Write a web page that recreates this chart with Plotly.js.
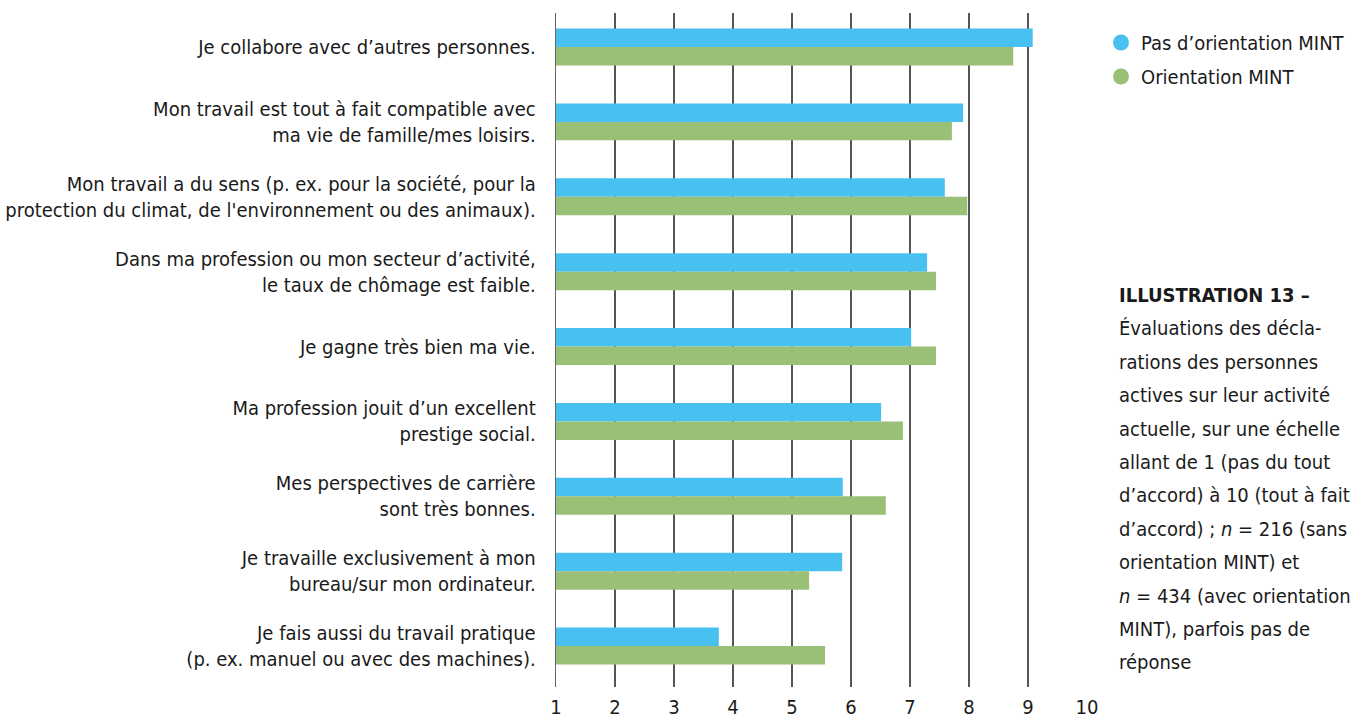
<!DOCTYPE html>
<html>
<head>
<meta charset="utf-8">
<script src="https://cdn.plot.ly/plotly-3.0.1.min.js"></script>
<style>
html,body{margin:0;padding:0;background:#fff;}
#chart{width:1368px;height:720px;}
</style>
</head>
<body>
<div id="chart"></div>
<script>
const categories = [
  "Je collabore avec d’autres personnes.",
  "Mon travail est tout à fait compatible avec<br>ma vie de famille/mes loisirs.",
  "Mon travail a du sens (p. ex. pour la société, pour la<br>protection du climat, de l'environnement ou des animaux).",
  "Dans ma profession ou mon secteur d’activité,<br>le taux de chômage est faible.",
  "Je gagne très bien ma vie.",
  "Ma profession jouit d’un excellent<br>prestige social.",
  "Mes perspectives de carrière<br>sont très bonnes.",
  "Je travaille exclusivement à mon<br>bureau/sur mon ordinateur.",
  "Je fais aussi du travail pratique<br>(p. ex. manuel ou avec des machines)."
];
const seriesNames = ["Pas d’orientation MINT", "Orientation MINT"];
const pasMint = [9.08, 7.90, 7.59, 7.29, 7.02, 6.51, 5.86, 5.85, 3.76];
const mint    = [8.75, 7.71, 7.97, 7.44, 7.44, 6.88, 6.59, 5.29, 5.56];
const tickVals = [1, 2, 3, 4, 5, 6, 7, 8, 9, 10];
const noteLines = [
  "<b>ILLUSTRATION 13 –</b>",
  "Évaluations des décla-",
  "rations des personnes",
  "actives sur leur activité",
  "actuelle, sur une échelle",
  "allant de 1 (pas du tout",
  "d’accord) à 10 (tout à fait",
  "d’accord) ; <i>n</i> = 216 (sans",
  "orientation MINT) et",
  "<i>n</i> = 434 (avec orientation",
  "MINT), parfois pas de",
  "réponse"
];

const BLUE = "#48C1F1";
const GREEN = "#99C076";
const FONT = "'Liberation Sans Narrow', 'DejaVu Sans Condensed', Roboto, sans-serif";
const TXT = "#1a1a1a";

const W = 1368, H = 720;
const L = 556, R = 1087, T = 13, B = 687;

const traces = [
  {type: "bar", orientation: "h", name: seriesNames[0], x: pasMint, y: categories,
   marker: {color: BLUE}, showlegend: false, hoverinfo: "x"},
  {type: "bar", orientation: "h", name: seriesNames[1], x: mint, y: categories,
   marker: {color: GREEN}, showlegend: false, hoverinfo: "x"},
  {type: "scatter", mode: "markers", name: seriesNames[0], x: [null], y: [null],
   legendgroup: "a",
   marker: {color: BLUE, size: 18, symbol: "circle"}, showlegend: true, hoverinfo: "skip"},
  {type: "scatter", mode: "markers", name: seriesNames[1], x: [null], y: [null],
   legendgroup: "b",
   marker: {color: GREEN, size: 18, symbol: "circle"}, showlegend: true, hoverinfo: "skip"}
];

const plotH = B - T;
const annotations = noteLines.map((t, k) => {
  const baseline = 303 + 33.4 * k;
  const center = baseline - 8;
  return {
    text: t, xref: "paper", yref: "paper",
    x: (1117 - L) / (R - L), y: (B - center) / plotH,
    xanchor: "left", yanchor: "middle", showarrow: false, align: "left",
    font: {family: FONT, size: 20, color: TXT}
  };
});

const layout = {
  width: W, height: H,
  margin: {l: L, r: W - R, t: T, b: H - B, pad: 0},
  paper_bgcolor: "#fff", plot_bgcolor: "#fff",
  barmode: "group", bargap: 0.506, bargroupgap: 0,
  font: {family: FONT, color: TXT, size: 20},
  xaxis: {
    range: [1, 10], tickvals: tickVals, ticktext: tickVals.map(String),
    showgrid: true, gridcolor: "#555", gridwidth: 1.3,
    zeroline: false, showline: false, ticks: "",
    tickfont: {family: FONT, size: 20, color: TXT},
    ticklabelstandoff: 6, fixedrange: true
  },
  yaxis: {
    type: "category", categoryorder: "array", categoryarray: categories,
    range: [8.547, -0.454], showgrid: false, zeroline: false,
    showline: true, linecolor: "#666", linewidth: 1.3, layer: "above traces",
    ticks: "", tickfont: {family: FONT, size: 20, color: TXT},
    ticklabelstandoff: 15, fixedrange: true
  },
  showlegend: true,
  legend: {
    xref: "container", yref: "container",
    x: 1101 / W, y: 1 - 23 / H, xanchor: "left", yanchor: "top",
    font: {family: FONT, size: 20, color: TXT},
    bgcolor: "rgba(0,0,0,0)", itemclick: false, itemdoubleclick: false,
    tracegroupgap: 5
  },
  annotations: annotations
};

Plotly.newPlot("chart", traces, layout, {displayModeBar: false, staticPlot: true});
</script>
</body>
</html>
